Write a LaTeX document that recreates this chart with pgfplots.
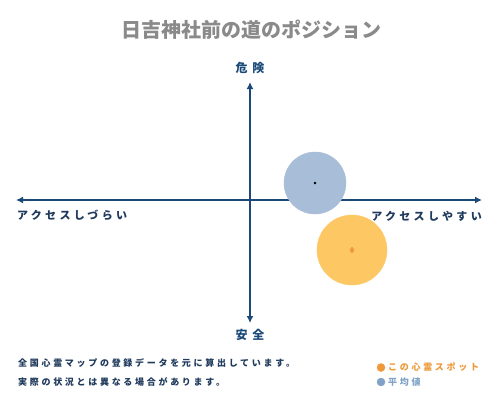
\documentclass[border=0pt]{standalone}
\usepackage{pgfplots}
\pgfplotsset{compat=1.18}
\usetikzlibrary{arrows.meta}
\usepackage{fontspec}
\newfontfamily\cjk{Noto Sans CJK JP}
\newfontfamily\cjkls{Noto Sans CJK JP}[LetterSpace=30]
\newfontfamily\cjkwide{Noto Sans CJK JP}[LetterSpace=40]

\definecolor{navy}{HTML}{1B4A78}
\definecolor{titlegray}{HTML}{8A8A8A}
\definecolor{foot}{HTML}{1F3A5C}
\definecolor{avgblue}{HTML}{A8BDD7}
\definecolor{spotorange}{HTML}{FDC863}
\definecolor{legorange}{HTML}{EE9A3A}
\definecolor{legblue}{HTML}{7FA2C6}

\begin{document}
\begin{tikzpicture}
\begin{axis}[
  scale only axis, width=500pt, height=400pt,
  xmin=0, xmax=500, ymin=0, ymax=400, y dir=reverse,
  hide axis, clip=false,
]
% background defines the page
\fill[white] (axis cs:0,0) rectangle (axis cs:500,400);

% average position
\addplot[only marks, mark=*, mark size=31pt, color=avgblue]
  coordinates {(315,183)};
% this spot
\addplot[only marks, mark=*, mark size=35pt, color=spotorange]
  coordinates {(352,250)};

% axes with arrows
\draw[navy, line width=2.5pt, {Latex[length=7pt,width=7pt]}-{Latex[length=7pt,width=7pt]}]
  (axis cs:16,200) -- (axis cs:482,200);
\draw[navy, line width=2.5pt, {Latex[length=7pt,width=7pt]}-{Latex[length=7pt,width=7pt]}]
  (axis cs:250,82) -- (axis cs:250,323);

% centre markers
\addplot[only marks, mark=*, mark size=1pt, black] coordinates {(315,183)};
\addplot[only marks, mark=diamond*, mark size=3pt, color=legorange] coordinates {(352,250)};

% title and axis labels
\node[text=titlegray, font=\cjk\fontsize{20}{22}\selectfont\bfseries] at (axis cs:251,30) {日吉神社前の道のポジション};
\node[text=navy, font=\cjkwide\fontsize{12}{14}\selectfont\bfseries] at (axis cs:250,68) {危険};
\node[text=navy, font=\cjkwide\fontsize{12}{14}\selectfont\bfseries] at (axis cs:250,335) {安全};
\node[anchor=west, inner sep=0pt, text=foot, font=\cjkls\fontsize{11}{13}\selectfont\bfseries] at (axis cs:17,215) {アクセスしづらい};
\node[anchor=east, inner sep=0pt, text=foot, font=\cjkls\fontsize{11}{13}\selectfont\bfseries] at (axis cs:482,216) {アクセスしやすい};

% footer
\node[anchor=west, inner sep=0pt, text=foot, font=\cjkls\fontsize{9}{11}\selectfont\bfseries] at (axis cs:18,363) {全国心霊マップの登録データを元に算出しています。};
\node[anchor=west, inner sep=0pt, text=foot, font=\cjkls\fontsize{9}{11}\selectfont\bfseries] at (axis cs:18,382) {実際の状況とは異なる場合があります。};

% legend
\addplot[only marks, mark=*, mark size=4pt, color=legorange] coordinates {(381,367.5)};
\addplot[only marks, mark=*, mark size=4pt, color=legblue] coordinates {(381,382)};
\node[anchor=west, inner sep=0pt, text=legorange, font=\cjkls\fontsize{9}{11}\selectfont\bfseries] at (axis cs:388,367.5) {この心霊スポット};
\node[anchor=west, inner sep=0pt, text=legblue, font=\cjkls\fontsize{9}{11}\selectfont\bfseries] at (axis cs:388,382) {平均値};
\end{axis}
\end{tikzpicture}
\end{document}
